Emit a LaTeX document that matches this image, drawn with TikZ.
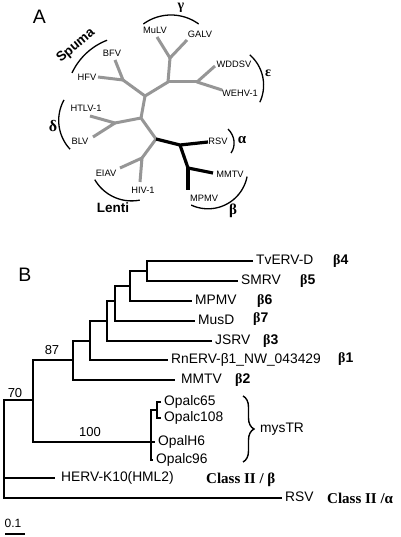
\documentclass[tikz,border=0pt]{standalone}
\usepackage{fontspec}
\setmainfont{Liberation Sans}
\newfontfamily\serifb{Liberation Serif}
\usetikzlibrary{decorations.pathreplacing}
\definecolor{treegray}{RGB}{150,150,150}
\begin{document}
\begin{tikzpicture}[x=1pt,y=-1pt,
  labA/.style={font=\fontsize{9.3}{10}\selectfont, inner sep=0pt},
  labB/.style={font=\fontsize{13.8}{15}\selectfont, anchor=west, inner ysep=0pt, inner xsep=3pt, text height=0.72em, text depth=0pt},
  grk/.style={font=\fontsize{14}{15}\serifb\bfseries\selectfont, inner sep=0pt},
  btag/.style={font=\fontsize{14}{15}\bfseries\selectfont, anchor=west, inner sep=0pt},
  cls/.style={font=\fontsize{15}{16}\serifb\bfseries\selectfont, anchor=west, inner sep=0pt},
  num/.style={font=\fontsize{13}{14}\selectfont, inner sep=0pt},
  bigl/.style={font=\fontsize{19.5}{20}\selectfont, inner sep=0pt},
  clade/.style={font=\fontsize{13.5}{14}\bfseries\selectfont, inner sep=0pt},
  ga/.style={draw=treegray, line width=3pt, line join=round},
  bk/.style={draw=black, line width=3.2pt, line join=round},
  tb/.style={draw=black, line width=2pt, line join=miter},
  arcl/.style={draw=black, line width=1.3pt}]
\useasboundingbox (0,0) rectangle (400,537);

% ---------------- Panel A ----------------
\node[bigl] (labA) at (39.5,17) {A};

\coordinate (a0) at (145,96);
\coordinate (ag) at (168,82);
\coordinate (agi) at (170,58);
\coordinate (lmulv) at (157,37);
\coordinate (lgalv) at (187,40);
\coordinate (ae) at (197,82);
\coordinate (lwdd) at (215,66);
\coordinate (lweh) at (222,90);
\coordinate (as) at (123,80);
\coordinate (lbfv) at (115,60);
\coordinate (lhfv) at (98,77);
\coordinate (a1) at (141,118);
\coordinate (ad) at (115,123);
\coordinate (lhtlv) at (90,116);
\coordinate (lblv) at (93,137);
\coordinate (a2) at (156,139);
\coordinate (al) at (142,158);
\coordinate (leiav) at (120,168);
\coordinate (lhiv) at (140,182);
\coordinate (aab) at (180,145);
\coordinate (lrsv) at (208,142);
\coordinate (ab) at (188,168);
\coordinate (lmmtv) at (213,173);
\coordinate (lmpmv) at (188,190);

\draw[ga] (lmulv) -- (agi) -- (lgalv);
\draw[ga] (agi) -- (ag);
\draw[ga] (lwdd) -- (ae) -- (lweh);
\draw[ga] (ag) -- (ae);
\draw[ga] (ag) -- (a0);
\draw[ga] (lbfv) -- (as) -- (lhfv);
\draw[ga] (as) -- (a0) -- (a1);
\draw[ga] (lhtlv) -- (ad) -- (lblv);
\draw[ga] (ad) -- (a1) -- (a2);
\draw[ga] (a2) -- (al);
\draw[ga] (leiav) -- (al) -- (lhiv);
\draw[bk] (a2) -- (aab) -- (lrsv);
\draw[bk] (aab) -- (ab) -- (lmmtv);
\draw[bk] (ab) -- (lmpmv);

\node[labA] (tmulv) at (155,30) {MuLV};
\node[labA] (tgalv) at (200,34) {GALV};
\node[labA] (twdd) at (234,64) {WDDSV};
\node[labA] (tweh) at (240,93) {WEHV-1};
\node[labA] (tbfv) at (112,53) {BFV};
\node[labA] (thfv) at (87,77) {HFV};
\node[labA] (thtlv) at (86,108) {HTLV-1};
\node[labA] (tblv) at (80,141) {BLV};
\node[labA] (teiav) at (106,173) {EIAV};
\node[labA] (thiv) at (143,190) {HIV-1};
\node[labA] (trsv) at (218,141) {RSV};
\node[labA] (tmmtv) at (230,174) {MMTV};
\node[labA] (tmpmv) at (204,198) {MPMV};

% clade arcs
\draw[arcl, domain=54:126, samples=30, variable=\t] plot ({171+47*cos(\t)},{62-47*sin(\t)});
\draw[arcl, domain=111:155, samples=30, variable=\t] plot ({130+64*cos(\t)},{100-64*sin(\t)});
\draw[arcl, domain=151:223, samples=30, variable=\t] plot ({100.9+42.2*cos(\t)},{120.4-42.2*sin(\t)});
\draw[arcl, domain=210:281, samples=30, variable=\t] plot ({131.6+42.5*cos(\t)},{158.4-42.5*sin(\t)});
\draw[arcl, domain=-25:49, samples=30, variable=\t] plot ({223.4+40.2*cos(\t)},{85.2-40.2*sin(\t)});
\draw[arcl, domain=-115:-11, samples=30, variable=\t] plot ({208+39.8*cos(\t)},{169-39.8*sin(\t)});
\draw[arcl] (228,129) .. controls (235,136) and (236,146) .. (231,153);

\node[grk, font=\fontsize{14}{15}\serifb\bfseries\selectfont] (gg) at (181,8) {γ};
\node[grk, font=\fontsize{14}{15}\serifb\bfseries\selectfont] (ge) at (268,73) {ε};
\node[grk, font=\fontsize{16}{17}\serifb\bfseries\selectfont] (gd) at (53,126) {δ};
\node[grk, font=\fontsize{15}{16}\serifb\bfseries\selectfont] (gal) at (242,140) {α};
\node[grk, font=\fontsize{15}{16}\serifb\bfseries\selectfont] (gb) at (233,211) {β};
\node[clade, rotate=40] (spuma) at (76,46) {Spuma};
\node[clade] (lenti) at (113,208) {Lenti};

% ---------------- Panel B ----------------
\node[bigl] (labB) at (25,275) {B};

\coordinate (n5) at (147,271);
\coordinate (n4) at (130,286);
\coordinate (n3) at (115,301);
\coordinate (n2) at (107,321);
\coordinate (n1) at (90,341);
\coordinate (n87) at (73,360);
\coordinate (n70) at (33,400);
\coordinate (nr) at (4,478);
\coordinate (no) at (151,442);
\coordinate (ns) at (157,410);

\node[labB] (tv) at (253,261) {TvERV-D};
\node[labB] (sm) at (238,281) {SMRV};
\node[labB] (mp) at (192,301) {MPMV};
\node[labB] (mu) at (195,321) {MusD};
\node[labB] (js) at (212,341) {JSRV};
\node[labB] (rn) at (168,360) {RnERV-β1\_NW\_043429};
\node[labB, inner xsep=6pt] (mm) at (175,380) {MMTV};
\node[labB, inner xsep=6pt] (hk) at (55,478) {HERV-K10(HML2)};
\node[labB] (rs) at (282,498) {RSV};
\node[labB] (o65) at (161,402) {Opalc65};
\node[labB] (o108) at (161,418) {Opalc108};
\node[labB] (oh6) at (155,442) {OpalH6};
\node[labB] (o96) at (153,460) {Opalc96};

\draw[tb] (tv.west) -| (n5) |- (sm.west);
\draw[tb] (n5) -| (n4) |- (mp.west);
\draw[tb] (n4) -| (n3) |- (mu.west);
\draw[tb] (n3) -| (n2) |- (js.west);
\draw[tb] (n2) -| (n1) |- (rn.west);
\draw[tb] (n1) -| (n87) |- (mm.west);
\draw[tb] (n87) -| (n70) |- (no);
\draw[tb] (n70) -| (nr) |- (rs.west);
\draw[tb] (nr) -- (hk.west);
\draw[tb] (ns) -| (no) |- (o96.west);
\draw[tb] (no) -- (oh6.west);
\draw[tb] (o65.west) -| (ns) |- (o108.west);

\node[btag] (b4) at (333,261) {{\serifb β}4};
\node[btag] (b5) at (300,281) {{\serifb β}5};
\node[btag] (b6) at (257,301) {{\serifb β}6};
\node[btag] (b7) at (253,319) {{\serifb β}7};
\node[btag] (b3) at (263,341) {{\serifb β}3};
\node[btag] (b1) at (338,359) {{\serifb β}1};
\node[btag] (b2) at (235,380) {{\serifb β}2};

\node[num] (s87) at (52,350) {87};
\node[num] (s70) at (15,393) {70};
\node[num] (s100) at (90,432) {100};

\draw[line width=1.4pt, decorate, decoration={brace, amplitude=11pt}] (243,396) -- (243,462);
\node[labB] (mys) at (257,429) {mysTR};

\node[cls] (c2b) at (206,480) {Class II / β};
\node[cls] (c2a) at (327,498) {Class II /α};

\node[num, font=\fontsize{12}{13}\selectfont] (sc) at (13,523) {0.1};
\coordinate (s0) at (5,534);
\coordinate (s1) at (25,534);
\draw[tb] (s0) -- (s1);
\end{tikzpicture}
\end{document}
